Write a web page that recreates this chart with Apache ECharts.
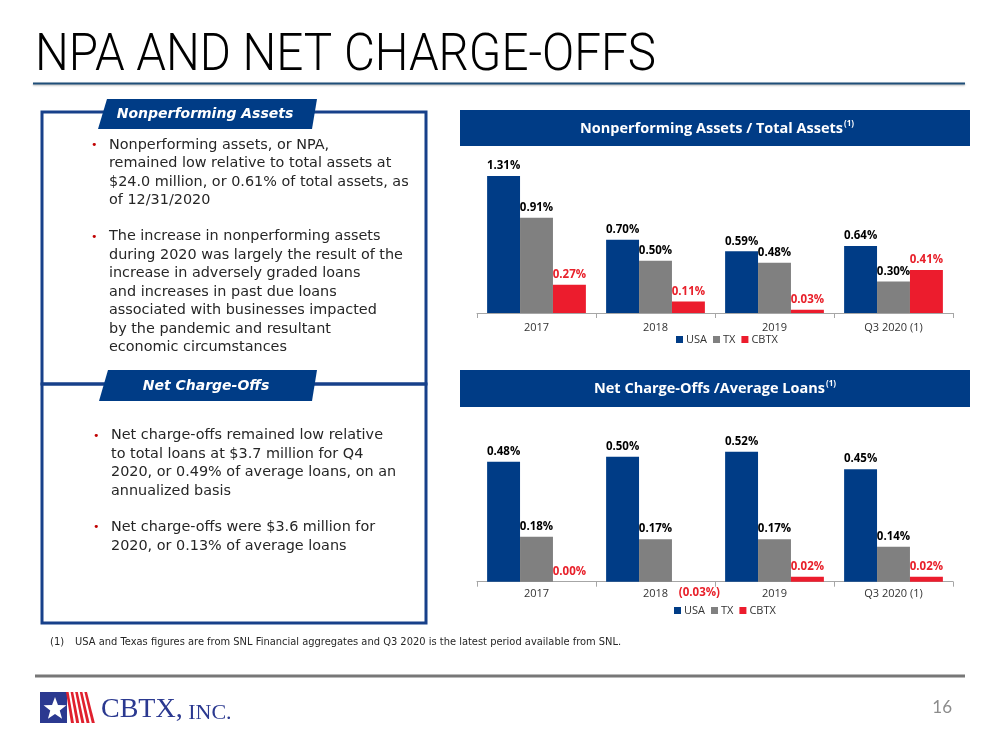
<!DOCTYPE html>
<html>
<head>
<meta charset="utf-8">
<script src="https://cdn.jsdelivr.net/npm/echarts@6/dist/echarts.min.js"></script>
<style>
html,body{margin:0;padding:0;background:#fff;}
#c{width:1000px;height:750px;}
</style>
</head>
<body>
<div id="c"></div>
<script>
// ---- data ----
const categories = ['2017', '2018', '2019', 'Q3 2020 (1)'];
const seriesNames = ['USA', 'TX', 'CBTX'];
const npaUSA  = [1.31, 0.70, 0.59, 0.64];
const npaTX   = [0.91, 0.50, 0.48, 0.30];
const npaCBTX = [0.27, 0.11, 0.03, 0.41];
const ncoUSA  = [0.48, 0.50, 0.52, 0.45];
const ncoTX   = [0.18, 0.17, 0.17, 0.14];
const ncoCBTX = [0.00, -0.03, 0.02, 0.02];

const titleText = 'NPA AND NET CHARGE-OFFS';
const chart1Title = 'Nonperforming Assets / Total Assets';
const chart2Title = 'Net Charge-Offs /Average Loans';
const tab1 = 'Nonperforming Assets';
const tab2 = 'Net Charge-Offs';
const box1Bullets = [
  ['Nonperforming assets, or NPA,', 'remained low relative to total assets at', '$24.0 million, or 0.61% of total assets, as', 'of 12/31/2020'],
  ['The increase in nonperforming assets', 'during 2020 was largely the result of the', 'increase in adversely graded loans', 'and increases in past due loans', 'associated with businesses impacted', 'by the pandemic and resultant', 'economic circumstances']
];
const box2Bullets = [
  ['Net charge-offs remained low relative', 'to total loans at $3.7 million for Q4', '2020, or 0.49% of average loans, on an', 'annualized basis'],
  ['Net charge-offs were $3.6 million for', '2020, or 0.13% of average loans']
];
const footnote = 'USA and Texas figures are from SNL Financial aggregates and Q3 2020 is the latest period available from SNL.';
const pageNo = '16';

// ---- styles ----
const BLUE = '#003C86';
const GRAY = '#808080';
const RED = '#EC1C2D';
const LABRED = '#E8202A';
const BODY = 'DejaVu Sans';
const UI = 'Open Sans';
const colors = [BLUE, GRAY, RED];

function fmt(v) {
  return v < 0 ? '(' + Math.abs(v).toFixed(2) + '%)' : v.toFixed(2) + '%';
}

function makeSeries(name, values, idx, color) {
  const isRed = color === RED;
  return {
    name: name,
    type: 'bar',
    xAxisIndex: idx, yAxisIndex: idx,
    barGap: '0%', barCategoryGap: '17%',
    itemStyle: { color: color },
    label: {
      show: true, position: 'top', distance: 4,
      fontFamily: UI, fontWeight: 'bold', fontSize: 11.5,
      color: isRed ? LABRED : '#000',
      formatter: p => fmt(p.value)
    },
    data: values.map(v => v < 0 ? { value: v, label: { position: 'bottom', distance: 5, offset: [11, 0] } } : v),
    animation: false
  };
}

const chart = echarts.init(document.getElementById('c'), null, { renderer: 'canvas' });

function bulletGraphics(groups, starts, textX, dotX, lh) {
  const out = [];
  groups.forEach((lines, gi) => {
    const yc = starts[gi];
    out.push({ type: 'text', style: { text: '•', x: dotX, y: yc, fill: '#C00000', fontSize: 11, fontFamily: BODY, textVerticalAlign: 'middle' } });
    out.push({ type: 'text', style: { text: lines.join('\n'), x: textX, y: yc - lh / 2, lineHeight: lh, fill: '#262626', fontSize: 14.4, fontFamily: BODY, textVerticalAlign: 'top' } });
  });
  return out;
}

// star points for logo
const star = [];
for (let i = 0; i < 10; i++) {
  const r = i % 2 === 0 ? 12 : 5;
  const a = -Math.PI / 2 + i * Math.PI / 5;
  star.push([55 + r * Math.cos(a), 709 + r * Math.sin(a)]);
}
const stripes = [];
for (let i = 0; i < 5; i++) {
  const t0 = 66 + i * 4.6, b0 = 71 + i * 5.2;
  stripes.push({ type: 'polygon', shape: { points: [[t0, 692], [t0 + 2.6, 692], [b0 + 3, 723], [b0, 723]] }, style: { fill: '#E0202E' } });
}

const graphics = [
  // title
  { type: 'text', x: 35, y: 57, scaleX: 0.915, style: { text: titleText, x: 0, y: 0, fill: '#000', fontSize: 52, fontWeight: 300, fontFamily: 'Roboto', textVerticalAlign: 'middle' } },
  { type: 'line', shape: { x1: 33, y1: 83.5, x2: 965, y2: 83.5 }, style: { stroke: '#1F4E79', lineWidth: 2, shadowBlur: 2, shadowColor: 'rgba(0,0,0,0.3)', shadowOffsetY: 1 } },
  // left boxes
  { type: 'rect', shape: { x: 42, y: 112, width: 384, height: 272 }, style: { fill: 'none', stroke: '#17408A', lineWidth: 3 } },
  { type: 'rect', shape: { x: 42, y: 384, width: 384, height: 239 }, style: { fill: 'none', stroke: '#17408A', lineWidth: 3 } },
  { type: 'polygon', shape: { points: [[107, 99], [317, 99], [312, 129], [98, 129]] }, style: { fill: BLUE } },
  { type: 'polygon', shape: { points: [[108, 370], [317, 370], [312, 401], [99, 401]] }, style: { fill: BLUE } },
  { type: 'text', style: { text: tab1, x: 205, y: 114, fill: '#fff', fontSize: 14, fontWeight: 'bold', fontStyle: 'italic', fontFamily: BODY, textAlign: 'center', textVerticalAlign: 'middle' } },
  { type: 'text', style: { text: tab2, x: 206, y: 386, fill: '#fff', fontSize: 14, fontWeight: 'bold', fontStyle: 'italic', fontFamily: BODY, textAlign: 'center', textVerticalAlign: 'middle' } },
  // chart headers
  { type: 'rect', shape: { x: 460, y: 110, width: 510, height: 36 }, style: { fill: BLUE } },
  { type: 'rect', shape: { x: 460, y: 370, width: 510, height: 37 }, style: { fill: BLUE } },
  { type: 'text', style: { text: '{a|' + chart1Title + '}{s|(1)}', x: 717, y: 129, textAlign: 'center', textVerticalAlign: 'middle',
      rich: { a: { fontSize: 14.5, fontWeight: 'bold', fontFamily: UI, fill: '#fff', lineHeight: 18 }, s: { fontSize: 8, fontWeight: 'bold', fontFamily: UI, fill: '#fff', verticalAlign: 'top', lineHeight: 18, padding: [0, 0, 8, 1] } } } },
  { type: 'text', style: { text: '{a|' + chart2Title + '}{s|(1)}', x: 715, y: 389, textAlign: 'center', textVerticalAlign: 'middle',
      rich: { a: { fontSize: 14.5, fontWeight: 'bold', fontFamily: UI, fill: '#fff', lineHeight: 18 }, s: { fontSize: 8, fontWeight: 'bold', fontFamily: UI, fill: '#fff', verticalAlign: 'top', lineHeight: 18, padding: [0, 0, 8, 1] } } } },
  // footnote
  { type: 'text', style: { text: '(1)', x: 50, y: 642, fill: '#262626', fontSize: 10, fontFamily: BODY, textVerticalAlign: 'middle' } },
  { type: 'text', x: 75, y: 642, scaleX: 0.99, style: { text: footnote, x: 0, y: 0, fill: '#262626', fontSize: 10, fontFamily: BODY, textVerticalAlign: 'middle' } },
  { type: 'line', shape: { x1: 35, y1: 676, x2: 965, y2: 676 }, style: { stroke: '#777', lineWidth: 3 } },
  { type: 'text', style: { text: pageNo, x: 952, y: 708, fill: '#8C8C8C', fontSize: 17, fontFamily: 'Lato', textAlign: 'right', textVerticalAlign: 'middle' } },
  // logo
  { type: 'rect', shape: { x: 40, y: 692, width: 27, height: 31 }, style: { fill: '#2B3990' } },
].concat(stripes).concat([
  { type: 'polygon', shape: { points: star }, style: { fill: '#fff' } },
  { type: 'text', style: { text: '{a|CBTX,}{b| INC.}', x: 101, y: 724, textVerticalAlign: 'bottom',
      rich: { a: { fontSize: 28, fontFamily: 'Liberation Serif', fill: '#2B3990', lineHeight: 30, verticalAlign: 'bottom' }, b: { fontSize: 22, fontFamily: 'Liberation Serif', fill: '#2B3990', lineHeight: 30, verticalAlign: 'bottom' } } } }
]).concat(bulletGraphics(box1Bullets, [145, 236.7], 109, 91, 18.5))
  .concat(bulletGraphics(box2Bullets, [435.7, 527.3], 111, 93, 18.5));

const axisCommon = {
  type: 'category', data: categories,
  axisLine: { lineStyle: { color: '#A6A6A6', width: 1 } },
  axisTick: { show: true, length: 5, lineStyle: { color: '#A6A6A6' } },
  axisLabel: { fontFamily: UI, fontSize: 11, color: '#333' }
};

chart.setOption({
  animation: false,
  backgroundColor: '#fff',
  color: colors,
  grid: [
    { left: 477, right: 47, top: 166.5, bottom: 437 },
    { left: 477, right: 47, top: 431.7, bottom: 168.3 }
  ],
  xAxis: [
    Object.assign({ gridIndex: 0 }, axisCommon, { axisLabel: Object.assign({}, axisCommon.axisLabel, { margin: 9 }) }),
    Object.assign({ gridIndex: 1 }, axisCommon, { axisLabel: Object.assign({}, axisCommon.axisLabel, { margin: 7 }) })
  ],
  yAxis: [
    { gridIndex: 0, type: 'value', min: 0, max: 1.4, show: false, splitLine: { show: false } },
    { gridIndex: 1, type: 'value', min: 0, max: 0.6, show: false, splitLine: { show: false } }
  ],
  legend: [
    { data: seriesNames, left: 676, top: 334, padding: 0, itemWidth: 7, itemHeight: 7, itemGap: 6, icon: 'rect', textStyle: { fontFamily: UI, fontSize: 11, color: '#333', padding: [0, 0, 0, -2] } },
    { data: seriesNames, left: 674, top: 605, padding: 0, itemWidth: 7, itemHeight: 7, itemGap: 6, icon: 'rect', textStyle: { fontFamily: UI, fontSize: 11, color: '#333', padding: [0, 0, 0, -2] } }
  ],
  series: [
    makeSeries('USA', npaUSA, 0, BLUE),
    makeSeries('TX', npaTX, 0, GRAY),
    makeSeries('CBTX', npaCBTX, 0, RED),
    makeSeries('USA', ncoUSA, 1, BLUE),
    makeSeries('TX', ncoTX, 1, GRAY),
    makeSeries('CBTX', ncoCBTX, 1, RED)
  ],
  graphic: graphics
});
</script>
</body>
</html>
